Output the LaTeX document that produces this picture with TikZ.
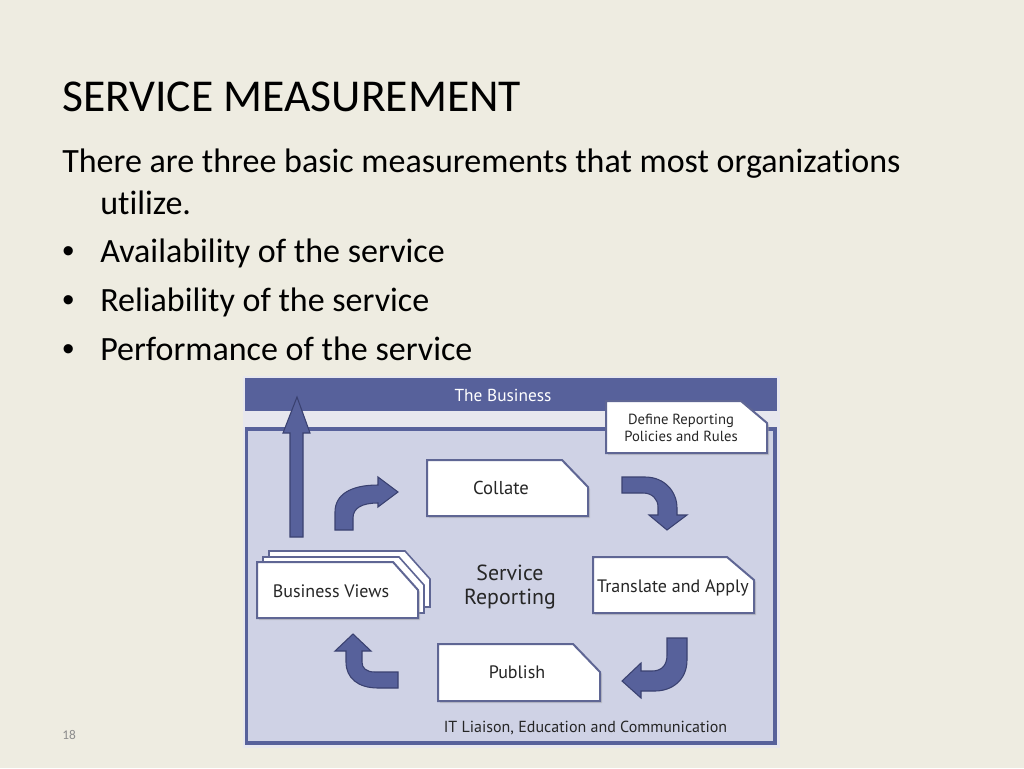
\documentclass[tikz,border=0pt]{standalone}
\usepackage{fontspec}
\setmainfont[Ligatures=NoCommon]{Carlito}
\newfontfamily\diag{PT Sans}
\newfontfamily\bulfont{Liberation Sans}
\definecolor{slidebg}{HTML}{EEECE1}
\definecolor{imgbg}{HTML}{E7E7EE}
\definecolor{barblue}{HTML}{57619B}
\definecolor{panelfill}{HTML}{CFD2E5}
\definecolor{arrowline}{HTML}{3A4170}
\definecolor{boxline}{HTML}{5F6694}
\definecolor{dtext}{HTML}{262626}
\definecolor{pnum}{HTML}{8C8C8C}
\tikzset{
  px/.style={x=0.75pt,y=-0.75pt},
  slidetext/.style={anchor=base west,inner sep=0pt,font=\fontsize{25.5}{30}\selectfont,text=black},
  bullet/.style={anchor=base west,inner sep=0pt,font=\bulfont\fontsize{25.5}{30}\selectfont,text=black},
  cbox/.style={draw=boxline,line width=1.5pt,fill=white,line join=miter},
  cshadow/.style={fill=black!35,opacity=0.45},
  barrow/.style={fill=barblue,draw=arrowline,line width=0.8pt,line join=miter},
  dlabel/.style={inner sep=0pt,text=dtext,font=\diag\fontsize{13.5}{15}\selectfont,align=center},
}
\begin{document}
\begin{tikzpicture}[px]
\useasboundingbox (0,0) rectangle (1024,768);
\fill[slidebg] (0,0) rectangle (1024,768);
% slide text
\node[anchor=base west,inner sep=0pt,font=\fontsize{34.2}{40}\selectfont] (title) at (62,111) {SERVICE MEASUREMENT};
\node[slidetext] (l1) at (62,172) {There are three basic measurements that most organizations};
\node[slidetext] (l2) at (100,214) {utilize.};
\node[bullet] (b1) at (62,262) {•};
\node[slidetext] (t1) at (100,262) {Availability of the service};
\node[bullet] (b2) at (62,311) {•};
\node[slidetext] (t2) at (100,311) {Reliability of the service};
\node[bullet] (b3) at (62,360) {•};
\node[slidetext] (t3) at (100,360) {Performance of the service};
\node[anchor=base west,inner sep=0pt,font=\fontsize{10}{12}\selectfont,text=pnum] (pg) at (62,739) {18};
% diagram background
\fill[imgbg] (243,376) rectangle (780,748);
\fill[barblue] (245,378) rectangle (777,411);
\node[inner sep=0pt,text=white,font=\diag\fontsize{13}{16}\selectfont] (bus) at (503,395) {The Business};
\draw[fill=panelfill,draw=barblue,line width=2.6pt] (246.5,429) rectangle (775,743);
% up arrow
\draw[barrow] (290,537) -- (290,433) -- (283,433) -- (297,397) -- (310,433) -- (303,433) -- (303,537) -- cycle;
% Define box
\fill[cshadow] (608,403) -- (743,403) -- (769,425) -- (769,455) -- (608,455) -- cycle;
\draw[cbox] (606,401) -- (741,401) -- (767,423) -- (767,453) -- (606,453) -- cycle;
\node[dlabel,font=\diag\fontsize{11}{12.5}\selectfont] (def) at (681,428) {Define Reporting\\Policies and Rules};
% Collate box
\fill[cshadow] (429,462) -- (564,462) -- (590,489) -- (590,518) -- (429,518) -- cycle;
\draw[cbox] (427,460) -- (562,460) -- (588,487) -- (588,516) -- (427,516) -- cycle;
\node[dlabel,font=\diag\fontsize{14}{16}\selectfont] (col) at (501,488) {Collate};
% Translate box
\fill[cshadow] (595,559) -- (729,559) -- (756,582) -- (756,615) -- (595,615) -- cycle;
\draw[cbox] (593,557) -- (727,557) -- (754,580) -- (754,613) -- (593,613) -- cycle;
\node[dlabel] (tra) at (673,588) {Translate and Apply};
% Publish box
\fill[cshadow] (440,646) -- (575,646) -- (602,674) -- (602,703) -- (440,703) -- cycle;
\draw[cbox] (438,644) -- (573,644) -- (600,672) -- (600,701) -- (438,701) -- cycle;
\node[dlabel] (pub) at (517,672) {Publish};
% Business views stack
\draw[cbox,line width=1.2pt] (269,551) -- (405,551) -- (430,579) -- (430,607) -- (269,607) -- cycle;
\draw[cbox,line width=1.2pt] (263,557) -- (399,557) -- (424,585) -- (424,613) -- (263,613) -- cycle;
\fill[cshadow] (259,564) -- (395,564) -- (420,592) -- (420,620) -- (259,620) -- cycle;
\draw[cbox] (257,562) -- (393,562) -- (418,590) -- (418,618) -- (257,618) -- cycle;
\node[dlabel] (bv) at (331,591) {Business Views};
% centre label
\node[dlabel,font=\diag\fontsize{16.4}{18}\selectfont,align=center] (sr) at (510,587) {Service\\Reporting};
% bottom label
\node[dlabel,font=\diag\fontsize{12}{14}\selectfont] (it) at (585.5,728) {IT Liaison, Education and Communication};
% curved block arrows
\draw[barrow] (335,530) -- (335,512) .. controls (335,495) and (350,485) .. (378,485) -- (378,477) -- (398,492) -- (378,507) -- (378,503) .. controls (362,503) and (353,508) .. (353,518) -- (353,530) -- cycle;
\draw[barrow] (622,477) -- (645,477) .. controls (665,477) and (677,492) .. (677,508) -- (677,515) -- (687,515) -- (667,530) -- (649,515) -- (658,515) -- (658,507) .. controls (658,499) and (652,493) .. (643,493) -- (622,493) -- cycle;
\draw[barrow] (667,638) -- (687,638) -- (687,660) .. controls (687,680) and (672,691) .. (655,691) -- (641,691) -- (641,698) -- (622,681) -- (641,663) -- (641,671) -- (652,671) .. controls (662,671) and (667,665) .. (667,655) -- cycle;
\draw[barrow] (346,651) -- (335,651) -- (353,634) -- (371,651) -- (362,651) -- (362,662) .. controls (362,668) and (366,672) .. (375,672) -- (398,672) -- (398,688) -- (378,688) .. controls (358,688) and (346,678) .. (346,662) -- cycle;
\end{tikzpicture}
\end{document}
